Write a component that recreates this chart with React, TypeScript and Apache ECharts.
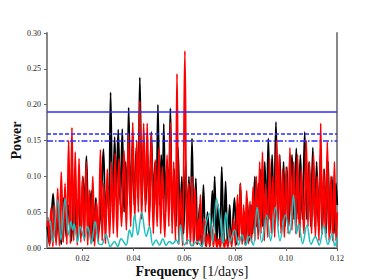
import React, { useEffect, useRef } from "react";
import * as echarts from "echarts";

// Frequency [1/days] / Power, alternating peaks and troughs
const blackFreq = [
  0.0061, 0.007, 0.0084, 0.0095, 0.0106, 0.0116, 0.0126, 0.0136, 0.0146, 0.0156,
  0.0166, 0.0175, 0.0184, 0.0193, 0.0201, 0.0208, 0.0215, 0.0224, 0.0234, 0.0243,
  0.0252, 0.0262, 0.0272, 0.0282, 0.029, 0.0297, 0.0303, 0.031, 0.0318, 0.0326,
  0.0332, 0.034, 0.0348, 0.0356, 0.0363, 0.0369, 0.0375, 0.0381, 0.0389, 0.0396,
  0.0403, 0.0411, 0.0418, 0.0425, 0.0433, 0.044, 0.0448, 0.0456, 0.0463, 0.047,
  0.0478, 0.0485, 0.049, 0.0496, 0.0503, 0.0509, 0.0514, 0.0519, 0.0526, 0.0532,
  0.0538, 0.0545, 0.0552, 0.056, 0.0567, 0.0575, 0.0583, 0.059, 0.0597, 0.0605,
  0.0612, 0.0618, 0.0624, 0.063, 0.0638, 0.0645, 0.0652, 0.066, 0.0667, 0.0675,
  0.0683, 0.0691, 0.07, 0.071, 0.0715, 0.0719, 0.0727, 0.0733, 0.074, 0.0747,
  0.0755, 0.0762, 0.077, 0.0778, 0.0785, 0.0797, 0.0805, 0.0812, 0.0816, 0.082,
  0.0828, 0.0835, 0.084, 0.0847, 0.0855, 0.0862, 0.0868, 0.0877, 0.0884, 0.0891,
  0.0896, 0.0901, 0.0908, 0.0916, 0.0923, 0.093, 0.0937, 0.0945, 0.0952, 0.096,
  0.0968, 0.0975, 0.0982, 0.099, 0.0996, 0.1003, 0.101, 0.1023, 0.1031, 0.104,
  0.1048, 0.1056, 0.1064, 0.1073, 0.1081, 0.109, 0.1097, 0.1105, 0.1113, 0.112,
  0.1127, 0.1135, 0.1142, 0.115, 0.1157, 0.1165, 0.1172, 0.118, 0.1188, 0.1196,
  0.1201,
];
const blackPower = [
  0.03, 0.005, 0.076, 0.01, 0.05, 0.005, 0.07, 0.015, 0.06, 0.01,
  0.09, 0.02, 0.07, 0.015, 0.1, 0.06, 0.128, 0.02, 0.08, 0.01,
  0.07, 0.02, 0.06, 0.138, 0.04, 0.09, 0.05, 0.217, 0.05, 0.155,
  0.07, 0.165, 0.06, 0.166, 0.05, 0.12, 0.06, 0.196, 0.05, 0.15,
  0.06, 0.14, 0.07, 0.238, 0.06, 0.15, 0.06, 0.13, 0.05, 0.162,
  0.07, 0.12, 0.06, 0.2, 0.06, 0.13, 0.07, 0.173, 0.05, 0.12,
  0.06, 0.195, 0.04, 0.11, 0.03, 0.14, 0.03, 0.1, 0.02, 0.12,
  0.02, 0.1, 0.02, 0.153, 0.01, 0.097, 0.005, 0.06, 0.005, 0.088,
  0.003, 0.05, 0.003, 0.08, 0.03, 0.1, 0.003, 0.06, 0.01, 0.113,
  0.003, 0.093, 0.003, 0.06, 0.005, 0.07, 0.005, 0.06, 0.03, 0.09,
  0.01, 0.05, 0.005, 0.069, 0.01, 0.06, 0.02, 0.1, 0.03, 0.09,
  0.04, 0.11, 0.03, 0.12, 0.04, 0.153, 0.04, 0.13, 0.04, 0.176,
  0.04, 0.13, 0.03, 0.12, 0.03, 0.113, 0.03, 0.13, 0.04, 0.139,
  0.04, 0.13, 0.04, 0.162, 0.04, 0.12, 0.03, 0.14, 0.03, 0.12,
  0.03, 0.13, 0.02, 0.11, 0.02, 0.12, 0.02, 0.1, 0.02, 0.09,
  0.06,
];

const redFreq = [
  0.0061, 0.0064, 0.007, 0.0076, 0.0083, 0.0089, 0.0096, 0.0102, 0.0109, 0.0116,
  0.0124, 0.0131, 0.0138, 0.0145, 0.0152, 0.0158, 0.0165, 0.0171, 0.0179, 0.0186,
  0.0193, 0.02, 0.0207, 0.0214, 0.022, 0.0226, 0.0233, 0.024, 0.0247, 0.0254,
  0.0262, 0.027, 0.0277, 0.0283, 0.029, 0.0297, 0.0306, 0.0314, 0.0321, 0.0328,
  0.0336, 0.0343, 0.0353, 0.0363, 0.0372, 0.038, 0.0389, 0.0397, 0.0405, 0.0413,
  0.0419, 0.0425, 0.0432, 0.044, 0.0447, 0.0454, 0.0462, 0.047, 0.0478, 0.0486,
  0.0493, 0.05, 0.0507, 0.0513, 0.0523, 0.0532, 0.0539, 0.0545, 0.0552, 0.0558,
  0.0565, 0.0571, 0.0578, 0.0585, 0.0593, 0.0602, 0.061, 0.0617, 0.0624, 0.063,
  0.0636, 0.0642, 0.0649, 0.0655, 0.0659, 0.0663, 0.067, 0.0678, 0.0686, 0.0693,
  0.07, 0.0707, 0.0714, 0.072, 0.0728, 0.0735, 0.0741, 0.0748, 0.0757, 0.0765,
  0.0771, 0.0778, 0.0786, 0.0794, 0.0801, 0.0809, 0.0815, 0.082, 0.0827, 0.0833,
  0.0839, 0.0845, 0.0852, 0.0858, 0.0864, 0.087, 0.0877, 0.0883, 0.089, 0.0896,
  0.0901, 0.0907, 0.0914, 0.092, 0.0928, 0.0935, 0.0942, 0.0948, 0.0955, 0.0962,
  0.0968, 0.0973, 0.098, 0.0986, 0.0993, 0.1, 0.1008, 0.1015, 0.1023, 0.103,
  0.1038, 0.1045, 0.1053, 0.106, 0.107, 0.1079, 0.1086, 0.1092, 0.11, 0.1108,
  0.1115, 0.1122, 0.1129, 0.1136, 0.1142, 0.1148, 0.1155, 0.1162, 0.1169, 0.1176,
  0.1183, 0.119, 0.1196, 0.1201,
];
const redPower = [
  0.03, 0.042, 0.003, 0.056, 0.002, 0.06, 0.004, 0.083, 0.003, 0.106,
  0.008, 0.09, 0.005, 0.15, 0.006, 0.168, 0.01, 0.134, 0.004, 0.125,
  0.008, 0.1, 0.01, 0.12, 0.004, 0.081, 0.006, 0.1, 0.003, 0.065,
  0.008, 0.137, 0.01, 0.09, 0.006, 0.11, 0.015, 0.12, 0.02, 0.132,
  0.015, 0.125, 0.03, 0.136, 0.025, 0.16, 0.03, 0.175, 0.04, 0.15,
  0.05, 0.205, 0.04, 0.174, 0.05, 0.174, 0.03, 0.158, 0.02, 0.123,
  0.03, 0.14, 0.02, 0.113, 0.015, 0.13, 0.03, 0.175, 0.02, 0.12,
  0.01, 0.243, 0.005, 0.081, 0.003, 0.275, 0.005, 0.09, 0.004, 0.1,
  0.003, 0.083, 0.005, 0.041, 0.01, 0.074, 0.002, 0.041, 0.002, 0.02,
  0.002, 0.032, 0.002, 0.02, 0.001, 0.012, 0.001, 0.02, 0.001, 0.012,
  0.001, 0.027, 0.002, 0.04, 0.003, 0.074, 0.01, 0.09, 0.005, 0.06,
  0.004, 0.08, 0.006, 0.065, 0.008, 0.085, 0.01, 0.1, 0.012, 0.12,
  0.02, 0.134, 0.01, 0.09, 0.015, 0.125, 0.02, 0.1, 0.015, 0.15,
  0.03, 0.13, 0.02, 0.11, 0.015, 0.113, 0.02, 0.14, 0.025, 0.12,
  0.02, 0.13, 0.015, 0.11, 0.02, 0.15, 0.03, 0.12, 0.02, 0.13,
  0.015, 0.1, 0.01, 0.174, 0.02, 0.11, 0.015, 0.148, 0.01, 0.1,
  0.01, 0.12, 0.01, 0.05,
];

const cyanFreq = [
  0.0061, 0.0073, 0.0082, 0.0102, 0.0115, 0.0131, 0.0144, 0.0154, 0.0161, 0.0167,
  0.018, 0.0191, 0.0207, 0.022, 0.0235, 0.0249, 0.0263, 0.0275, 0.0292, 0.0309,
  0.0325, 0.0338, 0.0351, 0.0371, 0.0384, 0.0394, 0.0404, 0.0417, 0.0432, 0.045,
  0.0463, 0.0476, 0.0489, 0.0502, 0.0515, 0.0528, 0.0541, 0.0554, 0.0568, 0.0576,
  0.0585, 0.06, 0.0616, 0.0629, 0.0649, 0.0668, 0.0684, 0.0698, 0.0711, 0.0726,
  0.0741, 0.0751, 0.0763, 0.0779, 0.0797, 0.0813, 0.0826, 0.0841, 0.0855, 0.0871,
  0.0886, 0.0904, 0.0924, 0.0939, 0.0958, 0.0976, 0.0997, 0.1014, 0.1029, 0.1041,
  0.1049, 0.1065, 0.1082, 0.1098, 0.1115, 0.113, 0.1148, 0.1164, 0.1181, 0.1191,
  0.1202,
];
const cyanPower = [
  0.04, 0.037, 0.008, 0.067, 0.011, 0.069, 0.018, 0.037, 0.025, 0.034,
  0.008, 0.03, 0.013, 0.03, 0.006, 0.037, 0.006, 0.005, 0.019, 0.002,
  0.009, 0.002, 0.013, 0.004, 0.025, 0.015, 0.047, 0.018, 0.05, 0.016,
  0.03, 0.004, 0.011, 0.004, 0.013, 0.004, 0.009, 0.006, 0.011, 0.006,
  0.032, 0.004, 0.011, 0.003, 0.009, 0.002, 0.032, 0.048, 0.008, 0.069,
  0.04, 0.006, 0.05, 0.008, 0.025, 0.004, 0.018, 0.004, 0.016, 0.004,
  0.057, 0.008, 0.046, 0.01, 0.057, 0.01, 0.046, 0.02, 0.074, 0.02,
  0.034, 0.006, 0.032, 0.005, 0.016, 0.004, 0.032, 0.005, 0.02, 0.003,
  0.015,
];

// False-alarm levels (solid, dashed, dash-dot)
const thresholds = [0.187, 0.164, 0.1525];

const xMin = 0.006;
const xMax = 0.12;
const yMin = 0;
const yMax = 0.3;
const yStep = 0.05;

const SERIF = "'Liberation Serif', 'DejaVu Serif', serif";

export default function App() {
  const ref = useRef<HTMLDivElement>(null);
  useEffect(() => {
    if (!ref.current) return;
    const chart = echarts.init(ref.current, null, { renderer: "svg" });
    const pairs = (f: number[], p: number[]) => f.map((x, i) => [x, p[i]]);
    const thrStyles = [
      { type: "solid" as any, width: 1.6 },
      { type: [4, 2] as any, width: 1.6 },
      { type: [6, 2, 1.5, 2] as any, width: 1.6 },
    ];
    chart.setOption({
      animation: false,
      backgroundColor: "#ffffff",
      grid: {
        left: 47,
        right: 37,
        top: 33,
        bottom: 32,
        containLabel: false,
        outerBoundsMode: "none",
      },
      xAxis: [
        {
          type: "value",
          min: xMin,
          max: xMax,
          splitNumber: 5,
          position: "bottom",
          name: "{b|Frequency} [1/days]",
          nameLocation: "middle",
          nameGap: 16,
          nameMoveOverlap: false,
          nameTextStyle: {
            fontFamily: SERIF,
            fontSize: 14,
            color: "#111",
            rich: { b: { fontFamily: SERIF, fontSize: 14, fontWeight: "bold", color: "#111" } },
          },
          axisLine: { show: true, lineStyle: { color: "#888", width: 2 } },
          axisTick: { show: true, inside: false, length: 3, lineStyle: { color: "#666" } },
          splitLine: { show: false },
          axisLabel: {
            fontFamily: SERIF,
            fontSize: 8,
            color: "#222",
            margin: 6,
            showMinLabel: false,
            formatter: (v: number) => (v < 0.01 ? "" : v.toFixed(2)),
          },
        },
        {
          type: "value",
          min: xMin,
          max: xMax,
          position: "top",
          axisLine: { show: true, lineStyle: { color: "#333", width: 1 } },
          axisTick: { show: false },
          axisLabel: { show: false },
          splitLine: { show: false },
        },
      ],
      yAxis: [
        {
          type: "value",
          min: yMin,
          max: yMax,
          interval: yStep,
          name: "Power",
          nameLocation: "middle",
          nameGap: 24,
          nameMoveOverlap: false,
          nameTextStyle: { fontFamily: SERIF, fontSize: 14, fontWeight: "bold", color: "#111" },
          axisLine: { show: true, lineStyle: { color: "#888", width: 2 } },
          axisTick: { show: true, inside: false, length: 3, lineStyle: { color: "#666" } },
          splitLine: { show: false },
          axisLabel: {
            fontFamily: SERIF,
            fontSize: 8,
            color: "#222",
            margin: 6,
            formatter: (v: number) => v.toFixed(2),
          },
        },
        {
          type: "value",
          min: yMin,
          max: yMax,
          position: "right",
          axisLine: { show: true, lineStyle: { color: "#888", width: 2 } },
          axisTick: { show: false },
          axisLabel: { show: false },
          splitLine: { show: false },
        },
      ],
      series: [
        {
          type: "line",
          data: pairs(blackFreq, blackPower),
          smooth: 0.35,
          symbol: "none",
          lineStyle: { color: "#000", width: 1.8 },
          z: 2,
        },
        {
          type: "line",
          data: pairs(redFreq, redPower),
          smooth: 0.35,
          symbol: "none",
          lineStyle: { color: "#ff0000", width: 1.8 },
          z: 3,
        },
        {
          type: "line",
          data: pairs(cyanFreq, cyanPower),
          smooth: 0.35,
          symbol: "none",
          lineStyle: { color: "#1cbfbf", width: 1.5 },
          z: 4,
          markLine: {
            silent: true,
            symbol: "none",
            label: { show: false },
            z: 5,
            data: thresholds.map((t, i) => ({
              yAxis: t,
              lineStyle: { color: "#2b2bff", ...thrStyles[i] },
            })),
          },
        },
      ],
    });
    return () => chart.dispose();
  }, []);
  return (
    <div
      ref={ref}
      style={{ position: "fixed", left: 0, top: 0, width: 374, height: 280, background: "#fff" }}
    />
  );
}
